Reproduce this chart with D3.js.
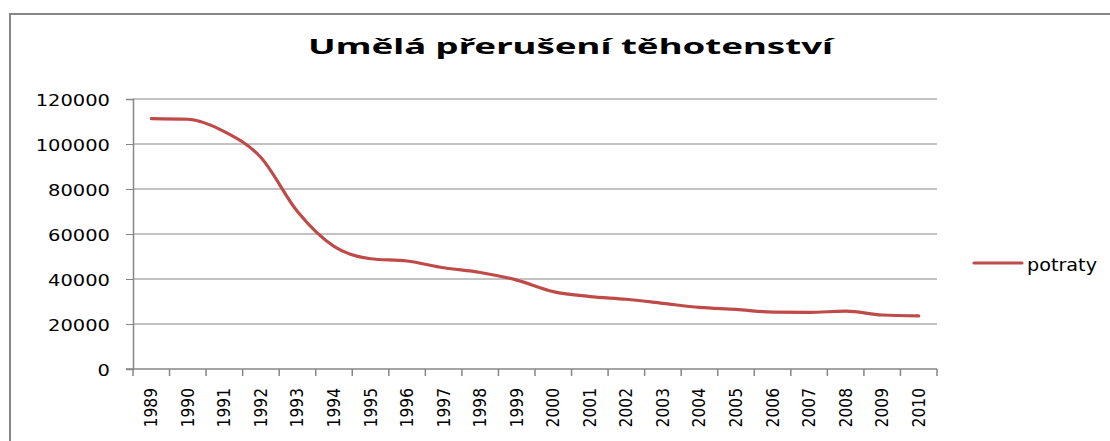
<!DOCTYPE html>
<html>
<head>
<meta charset="utf-8">
<script src="https://cdn.jsdelivr.net/npm/d3@7"></script>
<style>
  body { margin: 0; background: #fff; }
  svg { display: block; }
</style>
</head>
<body>
<script>
// chart data
const years = ["1989", "1990", "1991", "1992", "1993", "1994", "1995", "1996", "1997", "1998", "1999",
               "2000", "2001", "2002", "2003", "2004", "2005", "2006", "2007", "2008", "2009", "2010"];
const potraty = [111300, 111000, 105500, 94000, 70000, 54500, 49000, 48000, 45000, 42900, 39500,
                 34400, 32200, 31000, 29200, 27400, 26500, 25300, 25200, 25700, 24000, 23600];
const yTicks = [0, 20000, 40000, 60000, 80000, 100000, 120000];
const seriesName = "potraty";
const title = "Umělá přerušení těhotenství";

const width = 1110, height = 441;
const plot = { left: 133, right: 937, top: 99, bottom: 369 };
const gray = "#868686";
const red = "#BE4B48";

const svg = d3.select("body").append("svg")
    .attr("width", width)
    .attr("height", height);

// chart border (only left + top visible in the crop)
svg.append("rect")
    .attr("x", 10).attr("y", 14)
    .attr("width", 1300).attr("height", 600)
    .attr("fill", "none")
    .attr("stroke", gray)
    .attr("stroke-width", 2);

const x = d3.scaleBand().domain(years).range([plot.left, plot.right]).paddingInner(0).paddingOuter(0);
const y = d3.scaleLinear().domain([0, 120000]).range([plot.bottom, plot.top]);

// gridlines
svg.append("g").selectAll("line")
    .data(yTicks.filter(d => d > 0))
    .join("line")
    .attr("x1", plot.left).attr("x2", plot.right)
    .attr("y1", d => y(d)).attr("y2", d => y(d))
    .attr("stroke", gray).attr("stroke-width", 1);

// y axis
const yAxis = svg.append("g")
    .attr("transform", `translate(${plot.left},0)`)
    .call(d3.axisLeft(y).tickValues(yTicks).tickSize(7).tickPadding(0).tickFormat(d3.format("d")));
yAxis.select(".domain").attr("stroke", gray).attr("stroke-width", 1.5);
yAxis.selectAll(".tick line").attr("stroke", gray);
yAxis.selectAll(".tick text")
    .attr("x", null).attr("dy", null)
    .attr("font-family", "DejaVu Sans")
    .attr("font-size", 16.5)
    .attr("fill", "#000")
    .attr("text-anchor", "end")
    .attr("transform", "translate(-23,6) scale(1.18,1)");

// x axis line
svg.append("line")
    .attr("x1", plot.left - 7).attr("x2", plot.right)
    .attr("y1", plot.bottom).attr("y2", plot.bottom)
    .attr("stroke", gray).attr("stroke-width", 1.5);

// x ticks at category boundaries
const bounds = years.map(d => x(d)).concat([x.range()[1]]);
svg.append("g").selectAll("line")
    .data(bounds)
    .join("line")
    .attr("x1", d => d).attr("x2", d => d)
    .attr("y1", plot.bottom).attr("y2", plot.bottom + 7)
    .attr("stroke", gray).attr("stroke-width", 1.5);

// x labels, rotated
svg.append("g").selectAll("text")
    .data(years)
    .join("text")
    .attr("transform", d => `translate(${x(d) + x.bandwidth() / 2 + 6},${plot.bottom + 19}) rotate(-90) scale(1,1.1)`)
    .attr("text-anchor", "end")
    .attr("font-family", "DejaVu Sans")
    .attr("font-size", 15.5)
    .attr("fill", "#000")
    .text(d => d);

// series line
const line = d3.line()
    .x((d, i) => x(years[i]) + x.bandwidth() / 2)
    .y(d => y(d))
    .curve(d3.curveMonotoneX);

svg.append("path")
    .datum(potraty)
    .attr("d", line)
    .attr("fill", "none")
    .attr("stroke", red)
    .attr("stroke-width", 3.2)
    .attr("stroke-linecap", "round")
    .attr("stroke-linejoin", "round");

// title
svg.append("text")
    .attr("x", 308).attr("y", 54)
    .attr("font-family", "Noto Sans")
    .attr("font-weight", "bold")
    .attr("font-size", 22)
    .attr("textLength", 525)
    .attr("lengthAdjust", "spacingAndGlyphs")
    .attr("fill", "#000")
    .text(title);

// legend
svg.append("line")
    .attr("x1", 974).attr("x2", 1022)
    .attr("y1", 263).attr("y2", 263)
    .attr("stroke", red).attr("stroke-width", 3.2)
    .attr("stroke-linecap", "round");
svg.append("text")
    .attr("x", 1027).attr("y", 271)
    .attr("font-family", "DejaVu Sans")
    .attr("font-size", 18)
    .attr("textLength", 70)
    .attr("lengthAdjust", "spacingAndGlyphs")
    .attr("fill", "#000")
    .text(seriesName);
</script>
</body>
</html>
